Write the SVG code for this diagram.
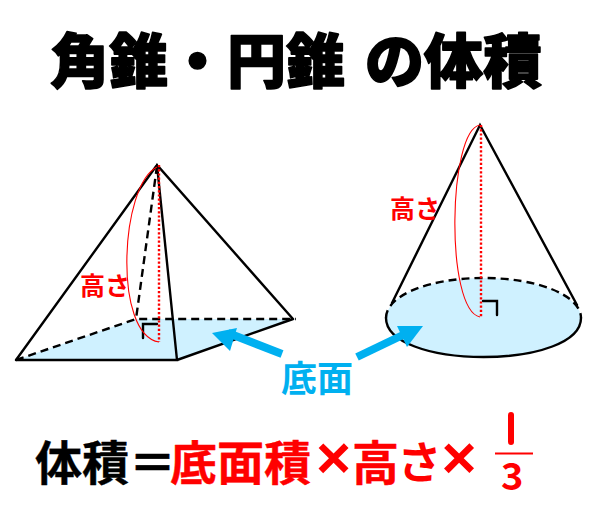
<svg xmlns="http://www.w3.org/2000/svg" width="602" height="505" viewBox="0 0 602 505">
<style>
text{font-family:"Noto Sans CJK JP","Noto Sans",sans-serif;font-weight:700;stroke-linejoin:round}
.t{font-weight:900;font-size:59px;stroke:#000;stroke-width:1.6px}
.f{font-size:47px;stroke-width:.4px}
.x{font-family:"Liberation Sans",sans-serif;font-size:60px}
.k{fill:none;stroke:#000;stroke-width:2.4;stroke-linecap:round}
.d{fill:none;stroke:#000;stroke-width:2.4;stroke-dasharray:8 5}
.h{fill:none;stroke:#f00;stroke-width:1.1}
.v{fill:none;stroke:#f00;stroke-width:2.4;stroke-dasharray:2.2 2}
.a{fill:none;stroke:#00b0f0;stroke-width:8}
.b{fill:#00b0f0}
.r{fill:#f00}
</style>
<rect width="602" height="505" fill="#fff"/>
<text id="title" class="t" x="50 109 168 227 286 345 365 424 483" y="83">角錐・円錐 の体積</text>
<g id="pyramid">
<polygon points="16,360 177,360 296,319 136,319" fill="#cff1ff"/>
<path class="d" d="M16,360L136,319L296,319M157,166L136,319"/>
<path class="k" d="M16,360L157,165L293,319M157,165L177,360L16,360M177,360L293,319"/>
<path class="k" d="M157,324H143V338"/>
<path class="h" d="M157,167C120,185 113,335 159,342"/>
<path class="v" d="M159,165V342"/>
<text class="r" x="80" y="295" font-size="25">高さ</text>
</g>
<g id="cone">
<ellipse cx="483.500" cy="318" rx="97.500" ry="40" fill="#cff1ff"/>
<path class="k" d="M386,318C386,342 430,357 483.500,357C537,357 581,342 581,318"/>
<path class="d" d="M386,318C386,295 430,278 483.500,278C537,278 581,295 581,318"/>
<path class="k" d="M392,303L480,125L577,305"/>
<path class="k" d="M483,301H497V315"/>
<path class="h" d="M480,125C448,130 445,310 480,317"/>
<path class="v" d="M481,125V317"/>
<text class="r" x="390" y="218" font-size="25">高さ</text>
</g>
<g id="connectors">
<path class="a" d="M282,354L228,333"/>
<polygon class="b" points="212,333 237,328 230,351"/>
<path class="a" d="M357,357L405,334"/>
<polygon class="b" points="423,326 397,326 407,347"/>
</g>
<g id="label-base"><text x="281" y="392" font-size="36" fill="#00b0f0">底面</text></g>
<g id="formula">
<text class="f" x="35 82 129" y="480" stroke="#000">体積＝</text>
<text class="f r" x="170 217 264" y="480" stroke="#f00">底面積</text>
<text class="f r" x="352" y="480" stroke="#f00">高</text>
<text class="r" x="397.500" y="479" font-size="44">さ</text>
<text class="r x" x="316" y="478">×</text>
<text class="r x" x="441.500" y="478">×</text>
<path d="M511,415V442" stroke="#f00" stroke-width="6" stroke-linecap="round" fill="none"/>
<path d="M495,453.500H533" stroke="#f00" stroke-width="2"/>
<text class="r" x="501" y="490" font-size="38">3</text>
</g>
</svg>
